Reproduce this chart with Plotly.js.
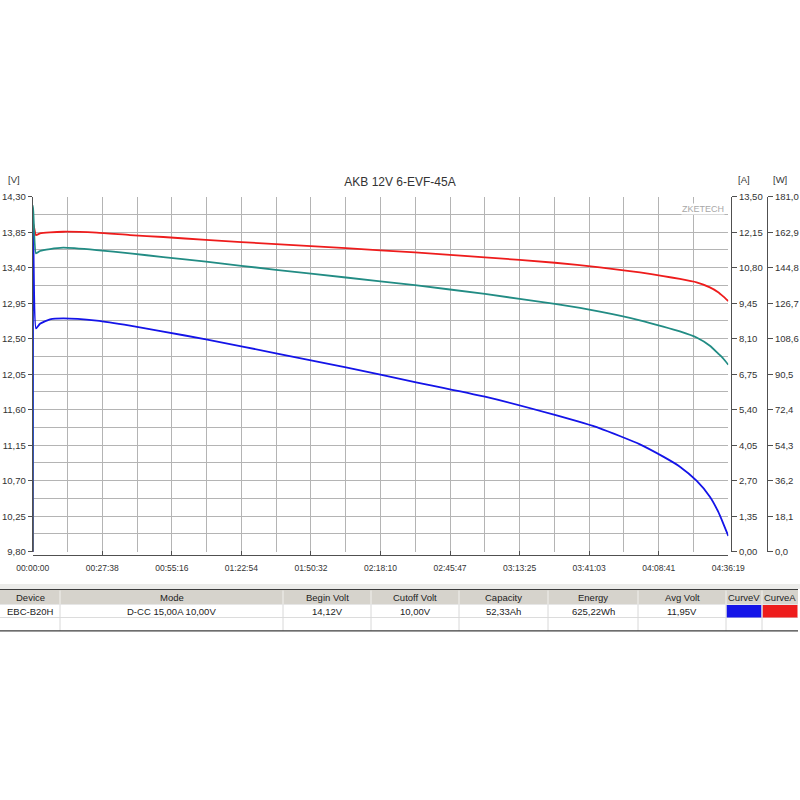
<!DOCTYPE html>
<html>
<head>
<meta charset="utf-8">
<script src="https://cdn.plot.ly/plotly-3.0.1.min.js"></script>
<style>html,body{margin:0;padding:0;background:#fff;}#chart{width:800px;height:800px;}</style>
</head>
<body>
<div id="chart"></div>
<script>
// ---- data ----
const timeSec = [0, 8, 79, 174, 412, 730, 1524, 2319, 3113, 4130, 5798, 7466, 9110, 10778,
  12446, 13519, 14472, 15028, 15425, 15822, 16140, 16338, 16457, 16579];
const voltage = [0, 14.12, 12.63, 12.69, 12.745, 12.758, 12.728, 12.665, 12.59, 12.492, 12.315, 12.137, 11.951, 11.765,
  11.533, 11.364, 11.161, 11.005, 10.878, 10.70, 10.497, 10.307, 10.16, 10.0];
const current = [0, 12.50, 12.04, 12.105, 12.144, 12.168, 12.132, 12.042, 11.967, 11.856, 11.695, 11.541, 11.38, 11.195,
  10.988, 10.812, 10.62, 10.48, 10.371, 10.242, 10.053, 9.87, 9.71, 9.53];
const power = [0, 176.5, 152.1, 153.3, 154.3, 155.0, 153.8, 152.1, 150.2, 147.9, 143.7, 139.8, 135.9, 131.4,
  126.3, 122.4, 118.0, 114.8, 112.3, 109.2, 105.0, 101.0, 98.5, 95.3];

const timeTickVals = [0, 1658, 3316, 4974, 6632, 8290, 9947, 11605, 13263, 14921, 16579];
const timeTickText = ["00:00:00", "00:27:38", "00:55:16", "01:22:54", "01:50:32", "02:18:10",
  "02:45:47", "03:13:25", "03:41:03", "04:08:41", "04:36:19"];
const vTicks = [9.80, 10.25, 10.70, 11.15, 11.60, 12.05, 12.50, 12.95, 13.40, 13.85, 14.30];
const aTicks = [0, 1.35, 2.70, 4.05, 5.40, 6.75, 8.10, 9.45, 10.80, 12.15, 13.50];
const wTicks = [0, 18.1, 36.2, 54.3, 72.4, 90.5, 108.6, 126.7, 144.8, 162.9, 181.0];

const chartTitle = "AKB 12V 6-EVF-45A";
const tableHeader = ["Device", "Mode", "Begin Volt", "Cutoff Volt", "Capacity", "Energy", "Avg Volt", "CurveV", "CurveA"];
const tableRow1 = ["EBC-B20H", "D-CC 15,00A 10,00V", "14,12V", "10,00V", "52,33Ah", "625,22Wh", "11,95V", "", ""];

// ---- styling / geometry ----
const FONT = "Liberation Sans, Arial, sans-serif";
const TXT = "#333333";
const GRID = "#b4b4b4";
const AXIS = "#505050";
const BLUE = "#1414e8", RED = "#ee1c1c", TEAL = "#228c84";
const swatch = [null, null, null, null, null, null, null, BLUE, RED];
const colEdges = [0, 60, 283, 371, 459, 548, 638, 726, 762, 798];

const PT = 160, PB = 160, PH = 480;
const py = v => (800 - PB - v) / PH; // pixel y -> paper fraction
const px = v => v / 800;

const lineStyle = c => ({color: c, width: 1.8, shape: "spline", smoothing: 0.5});
const traces = [
  {x: timeSec, y: voltage, type: "scatter", mode: "lines", line: lineStyle(BLUE), yaxis: "y", hoverinfo: "skip"},
  {x: timeSec, y: current, type: "scatter", mode: "lines", line: lineStyle(RED), yaxis: "y2", hoverinfo: "skip"},
  {x: timeSec, y: power, type: "scatter", mode: "lines", line: lineStyle(TEAL), yaxis: "y3", hoverinfo: "skip"}
];

// table geometry (pixels)
const T_TOP = 589.5, H_BOT = 604.5, R1_BOT = 617.5, T_BOT = 630.8;
const shapes = [
  {type: "rect", xref: "paper", yref: "paper", x0: 0, x1: 1, y0: py(589), y1: py(584), fillcolor: "#ececea", line: {width: 0}, layer: "below"},
  {type: "rect", xref: "paper", yref: "paper", x0: 0, x1: px(798), y0: py(H_BOT), y1: py(T_TOP), fillcolor: "#d6d3cc", line: {width: 0}, layer: "below"},
  {type: "line", xref: "paper", yref: "paper", x0: 0, x1: px(798), y0: py(R1_BOT), y1: py(R1_BOT), line: {color: "#dcdcdc", width: 1}},
  {type: "line", xref: "paper", yref: "paper", x0: 0, x1: px(798), y0: py(H_BOT), y1: py(H_BOT), line: {color: "#e6e6e6", width: 1}}
];
const annotations = [];
tableHeader.forEach((h, i) => {
  const x0 = colEdges[i], x1 = colEdges[i + 1], xc = (x0 + x1) / 2;
  if (swatch[i]) {
    shapes.push({type: "rect", xref: "paper", yref: "paper", x0: px(x0 + 0.5), x1: px(x1 - 0.5), y0: py(R1_BOT), y1: py(H_BOT + 0.5),
      fillcolor: swatch[i], line: {width: 0}});
  }
  if (i > 0) {
    shapes.push({type: "line", xref: "paper", yref: "paper", x0: px(x0), x1: px(x0), y0: py(H_BOT), y1: py(T_TOP + 1), line: {color: "#f2f1ee", width: 1}});
    shapes.push({type: "line", xref: "paper", yref: "paper", x0: px(x0), x1: px(x0), y0: py(T_BOT), y1: py(H_BOT), line: {color: "#d8d8d8", width: 1}});
  }
  annotations.push({text: h, xref: "paper", yref: "paper", x: px(xc), y: py((T_TOP + H_BOT) / 2 + 0.8), xanchor: "center", yanchor: "middle",
    showarrow: false, font: {family: FONT, size: 9.5, color: "#222"}});
  if (tableRow1[i]) {
    annotations.push({text: tableRow1[i], xref: "paper", yref: "paper", x: px(xc), y: py((H_BOT + R1_BOT) / 2 + 0.3), xanchor: "center", yanchor: "middle",
      showarrow: false, font: {family: FONT, size: 9.5, color: "#222"}});
  }
});
shapes.push({type: "line", xref: "paper", yref: "paper", x0: 0, x1: px(798), y0: py(T_TOP), y1: py(T_TOP), line: {color: "#3c3c3c", width: 1.2}});
shapes.push({type: "line", xref: "paper", yref: "paper", x0: 0, x1: px(798), y0: py(T_BOT), y1: py(T_BOT), line: {color: "#3c3c3c", width: 1.2}});

annotations.push(
  {text: "[V]", xref: "paper", yref: "paper", x: px(14), y: py(180), xanchor: "center", yanchor: "middle", showarrow: false, font: {size: 9.5, color: TXT}},
  {text: "[A]", xref: "paper", yref: "paper", x: px(744), y: py(180), xanchor: "center", yanchor: "middle", showarrow: false, font: {size: 9.5, color: TXT}},
  {text: "[W]", xref: "paper", yref: "paper", x: px(780), y: py(180), xanchor: "center", yanchor: "middle", showarrow: false, font: {size: 9.5, color: TXT}},
  {text: "ZKETECH", xref: "paper", yref: "paper", x: px(725), y: py(209), xanchor: "right", yanchor: "middle", showarrow: false,
    bgcolor: "#fff", borderpad: 0, font: {size: 9, color: "#a8a8a8"}}
);

const layout = {
  width: 800, height: 800,
  margin: {l: 0, r: 0, t: PT, b: PB, pad: 0},
  paper_bgcolor: "#fff", plot_bgcolor: "#fff",
  separators: ", ",
  showlegend: false,
  font: {family: FONT, size: 9.5, color: TXT},
  title: {text: chartTitle, x: 0.5, xref: "container", xanchor: "center", y: 1 - 182 / 800, yref: "container", yanchor: "middle",
    font: {family: FONT, size: 12, color: TXT}},
  xaxis: {
    domain: [px(32.7), px(728.3)],
    range: [0, 16579],
    anchor: "free", position: py(555),
    tickmode: "array", tickvals: timeTickVals, ticktext: timeTickText,
    tickfont: {family: FONT, size: 8.5, color: TXT},
    ticks: "inside", ticklen: 4, tickcolor: AXIS, ticklabelstandoff: 5,
    showline: true, linecolor: AXIS, linewidth: 1,
    showgrid: true, gridcolor: GRID, gridwidth: 1,
    minor: {tick0: 0, dtick: 16579 / 20, showgrid: true, gridcolor: GRID, gridwidth: 1, ticks: ""},
    zeroline: false, fixedrange: true
  },
  yaxis: {
    domain: [py(551.7), py(196.7)],
    range: [9.8, 14.3],
    tickmode: "array", tickvals: vTicks, tickformat: ".2f",
    ticks: "outside", ticklen: 4, tickcolor: AXIS,
    showline: true, linecolor: AXIS, linewidth: 1,
    showgrid: true, gridcolor: GRID, gridwidth: 1,
    minor: {tick0: 9.8, dtick: 0.225, showgrid: true, gridcolor: GRID, gridwidth: 1, ticks: ""},
    zeroline: false, fixedrange: true
  },
  yaxis2: {
    overlaying: "y", side: "right", anchor: "free", position: px(731),
    range: [0, 13.5],
    tickmode: "array", tickvals: aTicks, tickformat: ".2f",
    ticks: "outside", ticklen: 5, tickcolor: AXIS,
    showline: true, linecolor: AXIS, linewidth: 1,
    showgrid: false, zeroline: false, fixedrange: true
  },
  yaxis3: {
    overlaying: "y", side: "right", anchor: "free", position: px(767),
    range: [0, 181],
    tickmode: "array", tickvals: wTicks, tickformat: ".1f",
    ticks: "outside", ticklen: 5, tickcolor: AXIS,
    showline: true, linecolor: AXIS, linewidth: 1,
    showgrid: false, zeroline: false, fixedrange: true
  },
  annotations: annotations,
  shapes: shapes
};

Plotly.newPlot("chart", traces, layout, {displayModeBar: false, staticPlot: true});
</script>
</body>
</html>
